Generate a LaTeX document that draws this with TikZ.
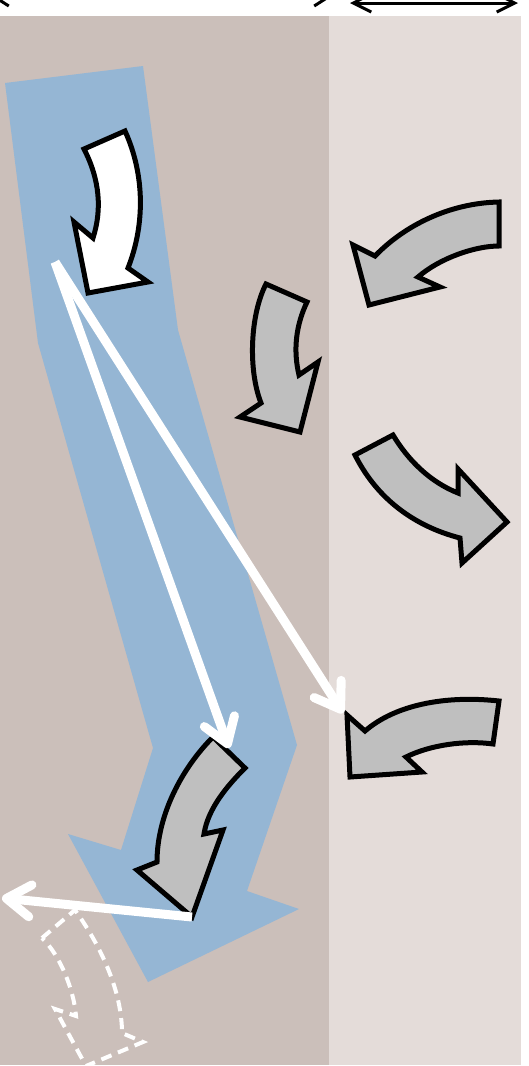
\documentclass[tikz,border=0pt]{standalone}
\usetikzlibrary{arrows.meta}
\definecolor{leftbg}{HTML}{CBBFBA}
\definecolor{rightbg}{HTML}{E4DCD9}
\definecolor{flowblue}{HTML}{95B6D4}
\definecolor{arrowgray}{HTML}{BFBFBF}
\tikzset{
  curvearrow/.style={draw=black, line width=5pt, line join=miter, fill=arrowgray},
  whitecurve/.style={draw=black, line width=5pt, line join=miter, fill=white},
  dashedcurve/.style={draw=white, line width=4pt, dash pattern=on 11pt off 7pt, line join=miter},
  ray/.style={draw=white, line width=9pt, -{Straight Barb[length=24pt,width=32pt,round]}},
  dimline/.style={draw=black, line width=3pt},
}
\begin{document}
\begin{tikzpicture}[x=1pt,y=-1pt]
\useasboundingbox (0,0) rectangle (528,1066);
\clip (0,0) rectangle (528,1066);
% panels
\fill[white] (0,0) rectangle (528,1066);
\fill[leftbg] (0,16) rectangle (329,1065);
\fill[rightbg] (329,16) rectangle (521,1065);
% dimension arrows at the top
\draw[dimline, {Straight Barb[length=14pt,width=18pt]}-{Straight Barb[length=14pt,width=18pt]}] (-8,-3) -- (331,-3);
\draw[dimline, {Straight Barb[length=18pt,width=18pt]}-{Straight Barb[length=18pt,width=18pt]}] (350,3) -- (518,3);
% blue flow band
\fill[flowblue] (5,83) -- (143,66) -- (178,330) -- (297,745) -- (247,891) -- (299,909)
  -- (148,982) -- (68,834) -- (121,850) -- (153,748) -- (38,343) -- cycle;
% white curved arrow
\path[whitecurve] (84,149) -- (125,131) .. controls (145,175) and (145,225) .. (128,268)
  -- (148,282) -- (88,293) -- (74,222) -- (93,238)
  .. controls (102,210) and (100,180) .. (84,149) -- cycle;
% gray arrow 1
\path[curvearrow] (499,202) -- (499,246) .. controls (475,246) and (440,258) .. (418,277)
  -- (440,287) -- (369,305) -- (353,245) -- (375,256)
  .. controls (405,225) and (450,203) .. (499,202) -- cycle;
% gray arrow 2
\path[curvearrow] (266,284) -- (307,302) .. controls (296,325) and (293,350) .. (299,375)
  -- (318,362) -- (300,432) -- (240,417) -- (261,403)
  .. controls (248,370) and (250,315) .. (266,284) -- cycle;
% gray arrow 3
\path[curvearrow] (355,455) -- (393,435) .. controls (408,460) and (430,482) .. (458,493)
  -- (458,469) -- (507,522) -- (462,563) -- (460,538)
  .. controls (410,525) and (375,495) .. (355,455) -- cycle;
% gray arrow 4
\path[curvearrow] (499,701) -- (493,744) .. controls (465,740) and (430,745) .. (406,757)
  -- (422,772) -- (350,777) -- (347,715) -- (365,731)
  .. controls (395,705) and (445,695) .. (499,701) -- cycle;
% gray arrow 5
\path[curvearrow] (213,737) -- (245,768) .. controls (228,785) and (208,808) .. (204,834)
  -- (223,830) -- (192,917) -- (137,870) -- (157,862)
  .. controls (157,815) and (182,768) .. (213,737) -- cycle;
% dashed outline arrow
\path[dashedcurve] (42,938) -- (75,910) .. controls (100,945) and (122,990) .. (122,1033)
  -- (143,1042) -- (86,1066) -- (55,1009) -- (76,1016)
  .. controls (74,990) and (60,955) .. (42,938) -- cycle;
% rays
\coordinate (src) at (55,262);
\coordinate (hitA) at (229,748);
\coordinate (hitB) at (343,713);
\coordinate (refl) at (192,917);
\coordinate (out) at (2,898);
\draw[ray] (src) -- (hitA);
\draw[ray] (src) -- (hitB);
\draw[ray] (refl) -- (out);
\end{tikzpicture}
\end{document}
